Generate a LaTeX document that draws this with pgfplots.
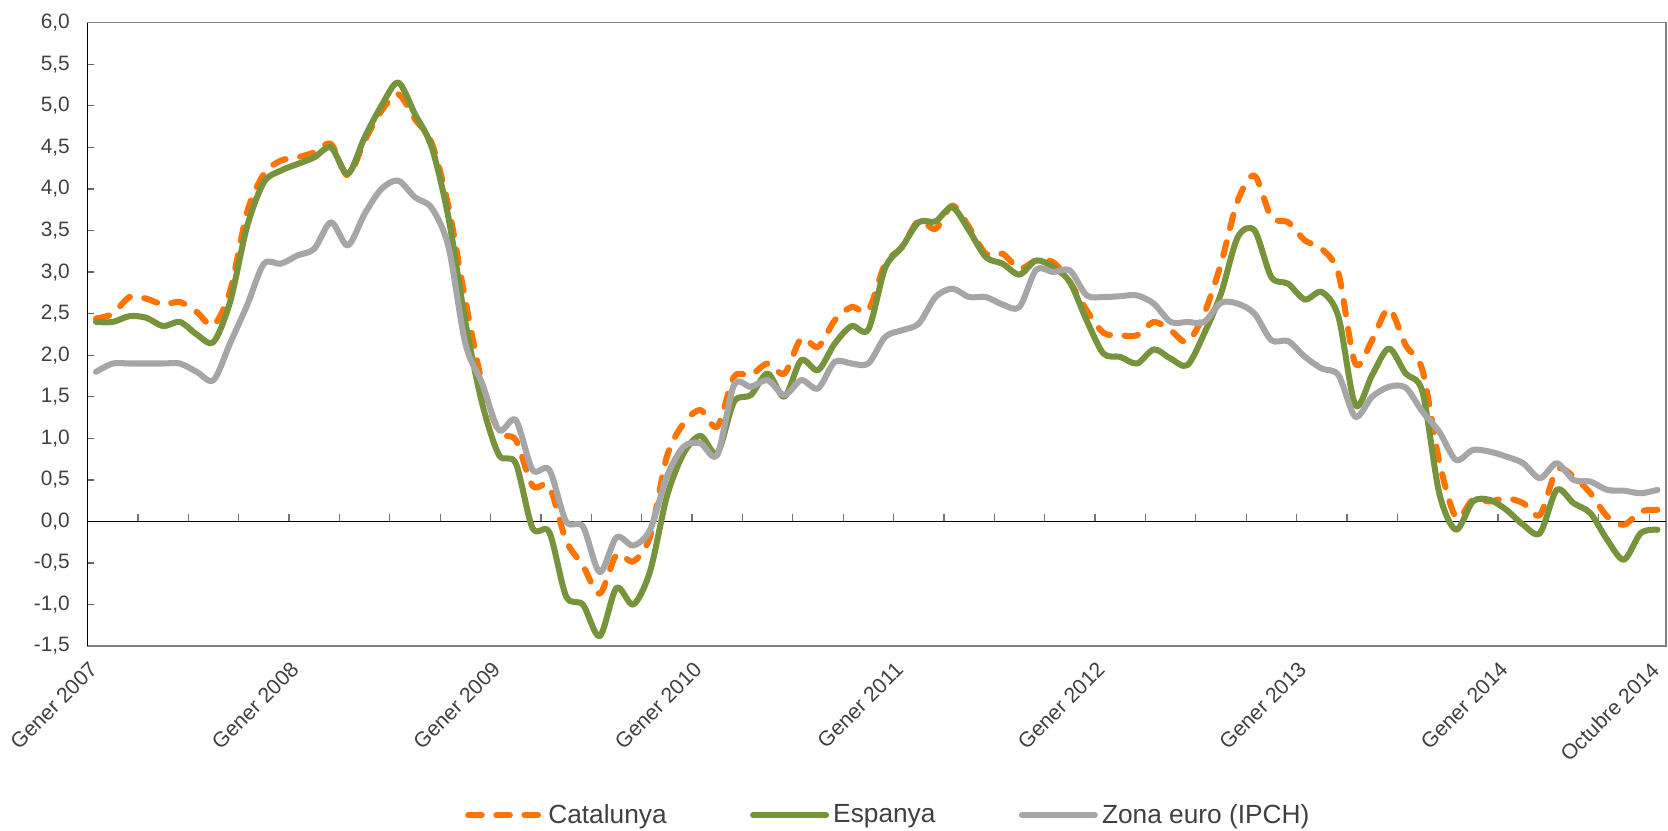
\documentclass[border=0pt]{standalone}
\usepackage{pgfplots}
\pgfplotsset{compat=1.18}
\usepackage{fontspec}
\setmainfont{Liberation Sans}
\definecolor{cat}{HTML}{FF7300}
\definecolor{esp}{HTML}{77933C}
\definecolor{eur}{HTML}{A6A6A6}
\definecolor{txt}{HTML}{404040}
\pgfplotsset{base/.style={width=757pt, height=299pt, scale only axis,
  xmin=-0.5, xmax=93.5, ymin=-1.5, ymax=6, at={(0pt,0pt)}, anchor=south west}}
\begin{document}
\begin{tikzpicture}
\path[use as bounding box] (-42pt,-88.2pt) rectangle (758pt,309.9pt);
% frame, labels
\begin{axis}[base,
  axis line style={draw=gray, line width=0.7pt},
  xtick={0,12,24,36,48,60,72,84,93},
  xticklabels={Gener 2007,Gener 2008,Gener 2009,Gener 2010,Gener 2011,Gener 2012,Gener 2013,Gener 2014,Octubre 2014},
  x tick label style={xshift=-3.8pt, yshift=-5.3pt, rotate=45, anchor=north east, inner sep=1pt, font=\fontsize{10.2}{12}\selectfont, text=txt},
  x tick style={draw=none},
  ytick={-1.5,-1,-0.5,0,0.5,1,1.5,2,2.5,3,3.5,4,4.5,5,5.5,6},
  ytick pos=left, tick align=inside, major tick length=3.3pt,
  y tick style={draw=black!60, line width=0.6pt},
  yticklabel style={/pgf/number format/fixed, /pgf/number format/fixed zerofill,
    /pgf/number format/precision=1, /pgf/number format/use comma,
    /pgf/number format/assume math mode=true,
    font=\fontsize{10}{12}\selectfont, text=txt, xshift=-5pt},
]
\end{axis}
% zero line and left axis line
\begin{axis}[base,
  axis x line*=middle, axis y line*=left,
  axis line style={draw=black, line width=0.7pt},
  xtick={2.5,5.5,...,92.5}, xticklabels={},
  ytick=\empty,
  tick align=inside, major tick length=3.5pt,
  x tick style={draw=black!55, line width=0.6pt},
]
\end{axis}
% data
\begin{axis}[base, hide axis,
  legend columns=3,
  legend style={at={(0.508,-0.271)}, anchor=center, draw=none, fill=none,
    font=\fontsize{12.6}{14}\selectfont, text=txt,
    /tikz/every even column/.append style={column sep=38pt}},
  legend image code/.code={\draw[#1] (0pt,0pt) -- (35pt,0pt);},
]
\addplot[cat, line width=2.9pt, smooth, line cap=round, line join=round, dash pattern=on 6.5pt off 7pt] coordinates {
(0,2.44)(1,2.5)(2,2.7)(3,2.68)(4,2.61)(5,2.64)(6,2.52)(7,2.36)(8,2.78)(9,3.72)(10,4.18)(11,4.34)
(12,4.38)(13,4.44)(14,4.54)(15,4.16)(16,4.58)(17,4.94)(18,5.14)(19,4.84)(20,4.55)(21,3.78)(22,2.66)(23,1.66)
(24,1.08)(25,0.98)(26,0.43)(27,0.42)(28,-0.23)(29,-0.53)(30,-0.87)(31,-0.4)(32,-0.48)(33,-0.18)(34,0.78)(35,1.18)
(36,1.34)(37,1.14)(38,1.74)(39,1.76)(40,1.9)(41,1.78)(42,2.2)(43,2.1)(44,2.42)(45,2.58)(46,2.54)(47,3.1)
(48,3.3)(49,3.62)(50,3.52)(51,3.8)(52,3.54)(53,3.22)(54,3.22)(55,3.04)(56,3.14)(57,3.12)(58,2.88)(59,2.54)
(60,2.27)(61,2.24)(62,2.24)(63,2.4)(64,2.3)(65,2.16)(66,2.5)(67,3.1)(68,3.86)(69,4.16)(70,3.66)(71,3.6)
(72,3.38)(73,3.28)(74,2.98)(75,1.9)(76,2.18)(77,2.56)(78,2.12)(79,1.82)(80,0.72)(81,0.05)(82,0.26)(83,0.24)
(84,0.28)(85,0.22)(86,0.08)(87,0.62)(88,0.54)(89,0.34)(90,0.06)(91,-0.04)(92,0.12)(93,0.14)};
\addlegendentry{Catalunya}
\addplot[esp, line width=2.9pt, smooth, line cap=round, line join=round] coordinates {
(0,2.4)(1,2.4)(2,2.47)(3,2.45)(4,2.35)(5,2.4)(6,2.25)(7,2.16)(8,2.65)(9,3.55)(10,4.08)(11,4.22)
(12,4.3)(13,4.38)(14,4.5)(15,4.18)(16,4.62)(17,5.0)(18,5.28)(19,4.9)(20,4.5)(21,3.65)(22,2.4)(23,1.42)
(24,0.8)(25,0.7)(26,-0.08)(27,-0.13)(28,-0.9)(29,-1.0)(30,-1.38)(31,-0.8)(32,-1.0)(33,-0.6)(34,0.3)(35,0.82)
(36,1.03)(37,0.82)(38,1.44)(39,1.52)(40,1.78)(41,1.5)(42,1.94)(43,1.82)(44,2.14)(45,2.35)(46,2.31)(47,3.05)
(48,3.3)(49,3.6)(50,3.61)(51,3.78)(52,3.5)(53,3.18)(54,3.1)(55,2.97)(56,3.14)(57,3.06)(58,2.88)(59,2.42)
(60,2.02)(61,1.98)(62,1.9)(63,2.07)(64,1.96)(65,1.88)(66,2.26)(67,2.74)(68,3.42)(69,3.5)(70,2.94)(71,2.86)
(72,2.67)(73,2.76)(74,2.46)(75,1.4)(76,1.76)(77,2.08)(78,1.78)(79,1.56)(80,0.34)(81,-0.1)(82,0.24)(83,0.26)
(84,0.14)(85,-0.04)(86,-0.14)(87,0.38)(88,0.22)(89,0.1)(90,-0.22)(91,-0.46)(92,-0.14)(93,-0.1)};
\addlegendentry{Espanya}
\addplot[eur, line width=2.9pt, smooth, line cap=round, line join=round] coordinates {
(0,1.8)(1,1.9)(2,1.9)(3,1.9)(4,1.9)(5,1.9)(6,1.8)(7,1.7)(8,2.15)(9,2.6)(10,3.1)(11,3.1)
(12,3.2)(13,3.28)(14,3.6)(15,3.32)(16,3.7)(17,4.0)(18,4.1)(19,3.9)(20,3.77)(21,3.3)(22,2.14)(23,1.66)
(24,1.1)(25,1.22)(26,0.62)(27,0.62)(28,0.0)(29,-0.06)(30,-0.61)(31,-0.19)(32,-0.29)(33,-0.1)(34,0.54)(35,0.9)
(36,0.94)(37,0.8)(38,1.64)(39,1.62)(40,1.7)(41,1.52)(42,1.7)(43,1.6)(44,1.92)(45,1.9)(46,1.9)(47,2.22)
(48,2.3)(49,2.38)(50,2.7)(51,2.8)(52,2.7)(53,2.7)(54,2.61)(55,2.58)(56,3.03)(57,3.0)(58,3.02)(59,2.72)
(60,2.7)(61,2.71)(62,2.72)(63,2.62)(64,2.4)(65,2.4)(66,2.4)(67,2.63)(68,2.62)(69,2.5)(70,2.18)(71,2.17)
(72,1.98)(73,1.84)(74,1.76)(75,1.26)(76,1.5)(77,1.62)(78,1.61)(79,1.32)(80,1.08)(81,0.74)(82,0.86)(83,0.84)
(84,0.78)(85,0.7)(86,0.52)(87,0.7)(88,0.5)(89,0.48)(90,0.38)(91,0.37)(92,0.34)(93,0.38)};
\addlegendentry{Zona euro (IPCH)}
\end{axis}
\end{tikzpicture}
\end{document}
